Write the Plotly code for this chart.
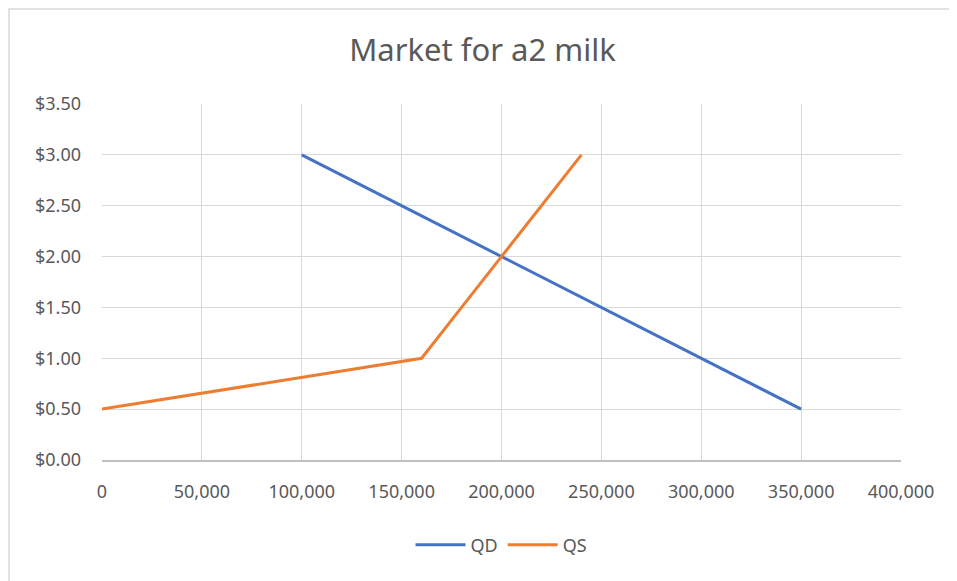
import plotly.graph_objects as go

# Data
qd_quantity = [100000, 150000, 200000, 250000, 300000, 350000]
qd_price = [3.0, 2.5, 2.0, 1.5, 1.0, 0.5]
qs_quantity = [0, 160000, 180000, 200000, 220000, 240000]
qs_price = [0.5, 1.0, 1.5, 2.0, 2.5, 3.0]

x_ticks = [0, 50000, 100000, 150000, 200000, 250000, 300000, 350000, 400000]
x_tick_labels = ["0", "50,000", "100,000", "150,000", "200,000", "250,000", "300,000", "350,000", "400,000"]
y_ticks = [0, 0.5, 1.0, 1.5, 2.0, 2.5, 3.0, 3.5]
y_tick_labels = ["$0.00", "$0.50", "$1.00", "$1.50", "$2.00", "$2.50", "$3.00", "$3.50"]

FONT = "Segoe UI, Noto Sans, Open Sans, sans-serif"
TXT = "#595959"

W, H = 949, 573
L, R, T, B = 94, 56, 96, 121
PW, PH = W - L - R, H - T - B

fig = go.Figure()
fig.add_trace(go.Scatter(x=qd_quantity, y=qd_price, mode="lines", name="QD",
                         line=dict(color="#4472C4", width=3)))
fig.add_trace(go.Scatter(x=qs_quantity, y=qs_price, mode="lines", name="QS",
                         line=dict(color="#ED7D31", width=3)))

fig.update_layout(
    width=W, height=H,
    paper_bgcolor="white", plot_bgcolor="white",
    margin=dict(l=L, r=R, t=T, b=B),
    title=dict(text="Market for a2 milk", x=0.5, xanchor="center",
               y=1 - 42 / H, yanchor="middle",
               font=dict(family=FONT, size=31, color=TXT)),
    font=dict(family=FONT, size=18, color=TXT),
    showlegend=True,
    legend=dict(orientation="h", x=0.5, xanchor="center", y=-85 / PH,
                yanchor="middle",
                font=dict(family=FONT, size=18, color=TXT), itemwidth=50,
                tracegroupgap=0),
    xaxis=dict(range=[0, 400000], tickvals=x_ticks, ticktext=x_tick_labels,
               showgrid=True, gridcolor="#d9d9d9", gridwidth=1,
               zeroline=False, showline=True, linecolor="#bfbfbf", linewidth=1.5,
               mirror=False, ticks="", ticklabelstandoff=15,
               tickfont=dict(family=FONT, size=18, color=TXT), fixedrange=True),
    yaxis=dict(range=[0, 3.5], tickvals=y_ticks, ticktext=y_tick_labels,
               showgrid=True, gridcolor="#d9d9d9", gridwidth=1,
               zeroline=False, showline=False, ticks="", ticklabelstandoff=20,
               tickfont=dict(family=FONT, size=18, color=TXT), fixedrange=True),
    shapes=[
        dict(type="rect", xref="paper", yref="paper",
             x0=(1 - L) / PW, x1=(W + 10 - L) / PW,
             y0=-(B + 10) / PH, y1=(H - B - 1) / PH,
             line=dict(color="#d9d9d9", width=1.5), fillcolor="rgba(0,0,0,0)", layer="below"),
    ],
)

fig.write_html("out.html")
